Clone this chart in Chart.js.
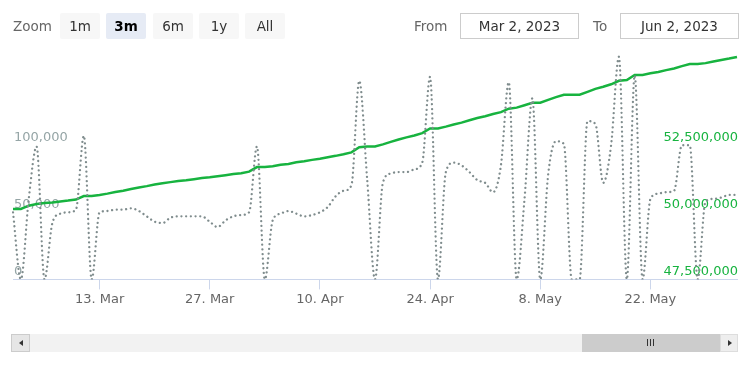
<!DOCTYPE html>
<html>
<head>
<meta charset="utf-8">
<script src="https://cdn.jsdelivr.net/npm/chart.js@4.4.1/dist/chart.umd.min.js"></script>
<style>
  body { margin: 0; overflow: hidden; background: #fff; font-family: 'DejaVu Sans', sans-serif; }
  #wrap { position: absolute; left: 0; top: 0; width: 750px; height: 375px; }
  .lbl { position: absolute; font-size: 13.5px; color: #666; line-height: 26px; top: 13px; }
  .btn { position: absolute; top: 13px; width: 40px; height: 26px; line-height: 26px; text-align: center;
         background: #f7f7f7; border-radius: 2px; font-size: 13.5px; color: #333; }
  .btn.on { background: #e6ebf5; font-weight: bold; color: #000; }
  .inp { position: absolute; top: 13px; height: 24px; line-height: 24px; border: 1px solid #ccc;
         text-align: center; font-size: 13.5px; color: #333; background: #fff; }
  .sb { position: absolute; top: 334px; height: 18px; }
</style>
</head>
<body>
<div id="wrap"><canvas id="chart"></canvas></div>

<!-- range selector -->
<div class="lbl" style="left:13px">Zoom</div>
<div class="btn" style="left:60px">1m</div>
<div class="btn on" style="left:106px">3m</div>
<div class="btn" style="left:153px">6m</div>
<div class="btn" style="left:199px">1y</div>
<div class="btn" style="left:245px">All</div>
<div class="lbl" style="left:414px">From</div>
<div class="inp" style="left:460px;width:117px">Mar 2, 2023</div>
<div class="lbl" style="left:593px">To</div>
<div class="inp" style="left:620px;width:117px">Jun 2, 2023</div>

<!-- scrollbar -->
<div class="sb" style="left:30px;width:690px;background:#f2f2f2"></div>
<div class="sb" style="left:582px;width:138px;background:#ccc"></div>
<div class="sb" style="left:647px;top:339px;width:1px;height:7px;background:#333"></div>
<div class="sb" style="left:650px;top:339px;width:1px;height:7px;background:#333"></div>
<div class="sb" style="left:653px;top:339px;width:1px;height:7px;background:#333"></div>
<div class="sb" style="left:11px;width:17px;height:16px;background:#e6e6e6;border:1px solid #ccc"></div>
<div class="sb" style="left:19px;top:340px;width:0;height:0;border-top:3px solid transparent;border-bottom:3px solid transparent;border-right:4px solid #333"></div>
<div class="sb" style="left:720px;width:16px;height:16px;background:#eee;border:1px solid #ddd"></div>
<div class="sb" style="left:728px;top:340px;width:0;height:0;border-top:3px solid transparent;border-bottom:3px solid transparent;border-left:4px solid #333"></div>

<script>
// --- Datos ---
const START_DATE = Date.UTC(2023, 2, 2);   // 2 Mar 2023, un punto por día
const MONTHS = ['Jan', 'Feb', 'Mar', 'Apr', 'May', 'Jun', 'Jul', 'Aug', 'Sep', 'Oct', 'Nov', 'Dec'];

const dailyValues = [
  50000, 0, 60000, 99000, 0, 42000, 49000, 50000, 52000, 107000,
  0, 50000, 51000, 52000, 52000, 53000, 51000, 47000, 43000, 42000,
  46000, 47000, 47000, 47000, 47000, 43000, 39000, 44000, 47000, 48000,
  50000, 99000, 0, 44000, 49000, 51000, 49000, 47000, 48000, 50000,
  54000, 62000, 66000, 70000, 148000, 75000, 0, 72000, 79000, 80000,
  80000, 82000, 87000, 151000, 0, 80000, 87000, 85000, 80000, 74000,
  72000, 65000, 85000, 147000, 0, 60000, 135000, 0, 78000, 103000,
  101000, 0, 0, 118000, 116000, 72000, 100000, 166000, 0, 152000,
  0, 60000, 64000, 65000, 66000, 100000, 100000, 0, 58000, 60000,
  61000, 63000, 63000
];

const totalValues = [
  50130000, 50130000, 50250000, 50310000, 50350000, 50370000, 50410000, 50440000, 50480000, 50610000,
  50610000, 50650000, 50700000, 50760000, 50810000, 50870000, 50930000, 50980000, 51040000, 51090000,
  51130000, 51170000, 51200000, 51240000, 51280000, 51310000, 51350000, 51390000, 51430000, 51460000,
  51520000, 51690000, 51690000, 51720000, 51780000, 51810000, 51870000, 51910000, 51960000, 52000000,
  52060000, 52110000, 52170000, 52240000, 52430000, 52460000, 52460000, 52540000, 52630000, 52720000,
  52800000, 52870000, 52960000, 53130000, 53130000, 53200000, 53280000, 53350000, 53440000, 53520000,
  53590000, 53670000, 53740000, 53870000, 53910000, 54000000, 54090000, 54090000, 54200000, 54300000,
  54390000, 54390000, 54390000, 54500000, 54610000, 54690000, 54780000, 54910000, 54940000, 55130000,
  55130000, 55190000, 55240000, 55310000, 55370000, 55460000, 55540000, 55540000, 55570000, 55630000,
  55690000, 55740000, 55800000
];

const xTickLabels = ['13. Mar', '27. Mar', '10. Apr', '24. Apr', '8. May', '22. May'];
const leftTicks = [0, 50000, 100000];
const rightTicks = [47500000, 50000000, 52500000];

// etiquetas de categoría: "2. Mar", "3. Mar", ...
const categories = dailyValues.map((_, i) => {
  const d = new Date(START_DATE + i * 86400000);
  return d.getUTCDate() + '. ' + MONTHS[d.getUTCMonth()];
});

// --- Colores ---
const COLOR_GRAY = '#7f8c8d';
const COLOR_GRAY_LABEL = '#95a5a6';
const COLOR_GREEN = '#17b33f';
const AXIS_COLOR = '#ccd6eb';
const FONT = "'DejaVu Sans', sans-serif";

new Chart(document.getElementById('chart'), {
  type: 'line',
  data: {
    labels: categories,
    datasets: [
      {
        data: dailyValues,
        yAxisID: 'y',
        borderColor: COLOR_GRAY,
        borderWidth: 2.3,
        borderDash: [0.01, 4.7],
        borderCapStyle: 'round',
        cubicInterpolationMode: 'monotone',
        pointRadius: 0,
        fill: false,
      },
      {
        data: totalValues,
        yAxisID: 'y1',
        borderColor: COLOR_GREEN,
        borderWidth: 2.5,
        tension: 0,
        pointRadius: 0,
        fill: false,
      },
    ],
  },
  options: {
    responsive: true,
    maintainAspectRatio: false,
    animation: false,
    layout: { padding: { left: 11, right: 11, top: 50, bottom: 66 } },
    plugins: { legend: { display: false }, tooltip: { enabled: false } },
    scales: {
      x: {
        type: 'category',
        offset: false,
        afterBuildTicks: (scale) => {
          scale.ticks = scale.ticks.filter(t => xTickLabels.includes(categories[t.value]));
        },
        grid: { drawOnChartArea: false, color: AXIS_COLOR, tickLength: 10 },
        border: { color: AXIS_COLOR },
        ticks: {
          autoSkip: false,
          maxRotation: 0,
          padding: 2,
          color: '#666',
          font: { family: FONT, size: 13 },
        },
      },
      y: {
        position: 'left',
        min: 0,
        max: 171000,
        afterBuildTicks: (scale) => { scale.ticks = leftTicks.map(v => ({ value: v })); },
        grid: { display: false, drawTicks: false },
        border: { display: false },
        ticks: {
          mirror: true,
          padding: 1,
          labelOffset: -8,
          color: COLOR_GRAY_LABEL,
          font: { family: FONT, size: 13 },
          callback: (v) => v.toLocaleString('en-US'),
        },
      },
      y1: {
        position: 'right',
        min: 47500000,
        max: 56060000,
        afterBuildTicks: (scale) => { scale.ticks = rightTicks.map(v => ({ value: v })); },
        grid: { display: false, drawTicks: false },
        border: { display: false },
        ticks: {
          mirror: true,
          padding: 1,
          labelOffset: -8,
          color: COLOR_GREEN,
          font: { family: FONT, size: 13 },
          callback: (v) => v.toLocaleString('en-US'),
        },
      },
    },
  },
});
</script>
</body>
</html>
